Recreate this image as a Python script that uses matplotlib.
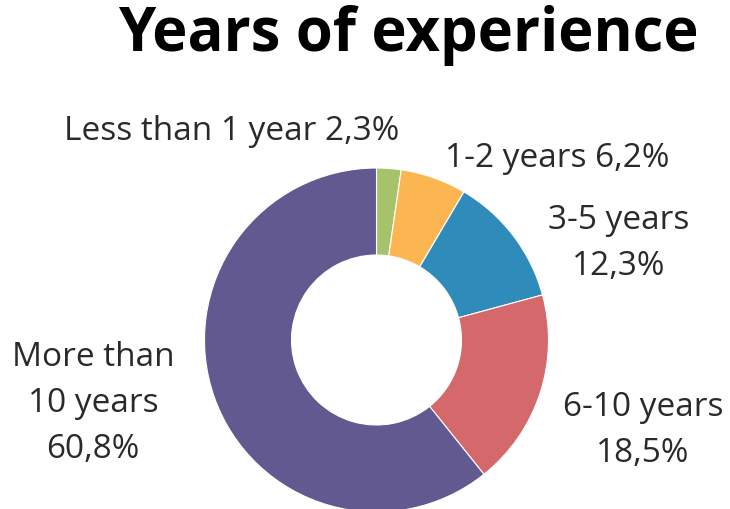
import matplotlib.pyplot as plt

plt.rcParams['font.family'] = ['Open Sans', 'DejaVu Sans']

categories = ['Less than 1 year', '1-2 years', '3-5 years', '6-10 years', 'More than\n10 years']
shares = [2.3, 6.2, 12.3, 18.5, 60.8]
colors = ['#a6c36b', '#fbb651', '#2e8bba', '#d4686b', '#625990']

# label anchors in pixel space (x, y from top) and how each label is laid out
label_pos = [(232, 131), (557, 158), (619, 243), (643, 431), (93, 404)]
label_sep = [' ', ' ', '\n', '\n', '\n']

W, H = 730, 509
fig = plt.figure(figsize=(W / 100, H / 100), dpi=100)
ax = fig.add_axes([0, 0, 1, 1])

ax.pie(shares, colors=colors, startangle=90, counterclock=False,
       center=(376.5, H - 340), radius=172, frame=True,
       wedgeprops=dict(width=87, edgecolor='white', linewidth=0.8))
ax.set_xlim(0, W)
ax.set_ylim(0, H)
ax.set_aspect('equal')
ax.axis('off')

for cat, v, (x, y), sep in zip(categories, shares, label_pos, label_sep):
    txt = cat + sep + '{:.1f}%'.format(v).replace('.', ',')
    ax.text(x, H - y, txt, ha='center', va='center', fontsize=24,
            color='#2a2a2a', linespacing=1.52, multialignment='center')

ax.text(408, H - 35, 'Years of experience', ha='center', va='center',
        fontsize=43, fontweight='bold', color='black')

fig.savefig('out.png', dpi=100)
